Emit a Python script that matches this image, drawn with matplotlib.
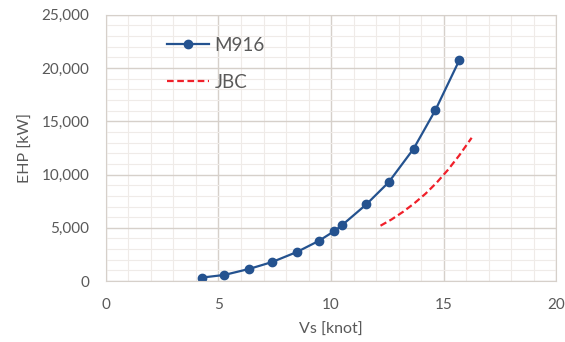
import numpy as np
import matplotlib.pyplot as plt
from matplotlib.ticker import MultipleLocator, FuncFormatter

# M916 measured EHP
vs_m916 = [4.25, 5.26, 6.37, 7.38, 8.48, 9.47, 10.15, 10.49, 11.57, 12.56, 13.67, 14.64, 15.70]
ehp_m916 = [330, 580, 1150, 1790, 2730, 3790, 4700, 5250, 7200, 9270, 12420, 16050, 20720]

# JBC curve
vs_jbc = [12.2, 12.7, 13.2, 13.7, 14.2, 14.7, 15.2, 15.7, 16.25]
ehp_jbc = [5200, 5800, 6500, 7300, 8200, 9250, 10450, 11800, 13450]

plt.rcParams['font.family'] = ['Lato', 'DejaVu Sans']
txt = '#595959'

fig = plt.figure(figsize=(5.65, 3.42), dpi=100)
ax = fig.add_axes([0.1876, 0.178, 0.7965, 0.779])

ax.plot(vs_m916, ehp_m916, '-o', color='#24528f', lw=1.6, ms=6, label='M916')
ax.plot(vs_jbc, ehp_jbc, '--', color='#f0202a', lw=1.6, dashes=(3, 1.6), label='JBC')

ax.set_xlim(0, 20)
ax.set_ylim(0, 25000)
ax.xaxis.set_major_locator(MultipleLocator(5))
ax.xaxis.set_minor_locator(MultipleLocator(1))
ax.yaxis.set_major_locator(MultipleLocator(5000))
ax.yaxis.set_minor_locator(MultipleLocator(1000))
ax.yaxis.set_major_formatter(FuncFormatter(lambda v, p: f'{int(v):,}'))

ax.grid(which='major', color='#d6d0ca', lw=1.0)
ax.grid(which='minor', color='#efebe8', lw=0.8)
ax.set_axisbelow(True)
for s in ax.spines.values():
    s.set_color('#d6d0ca')
ax.tick_params(which='both', length=0, colors=txt, labelsize=11)
ax.tick_params(axis='y', pad=12)
ax.tick_params(axis='x', pad=12)

ax.set_xlabel('Vs [knot]', color=txt, fontsize=11.5, labelpad=8)
ax.set_ylabel('EHP [kW]', color=txt, fontsize=11.5, labelpad=6)

leg = ax.legend(loc='upper left', bbox_to_anchor=(0.12, 0.945), frameon=False,
                fontsize=13.5, handlelength=2.2, labelspacing=1.05, handletextpad=0.3,
                borderaxespad=0)
for t in leg.get_texts():
    t.set_color(txt)

fig.savefig('out.png', dpi=100)
